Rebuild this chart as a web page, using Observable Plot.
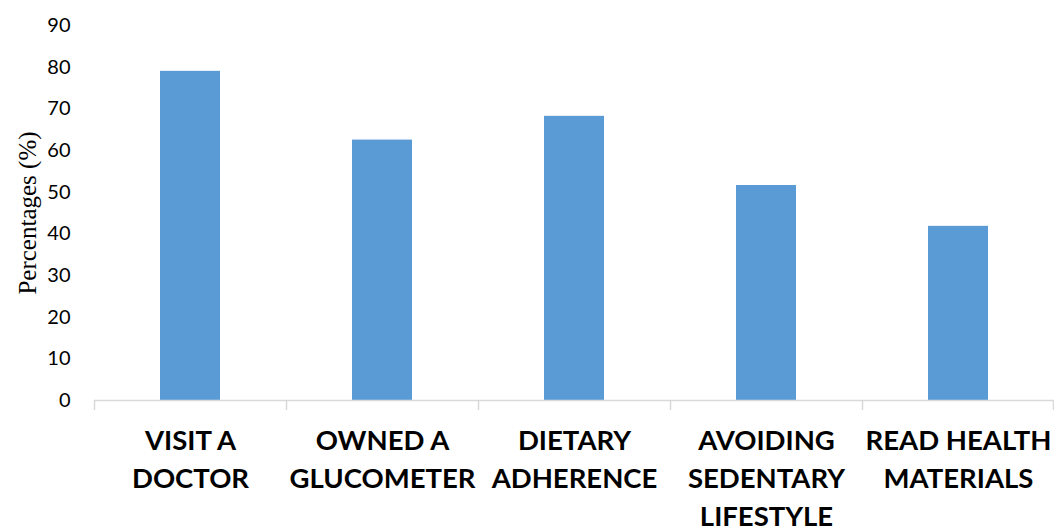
<!DOCTYPE html>
<html>
<head>
<meta charset="utf-8">
<script src="https://cdn.jsdelivr.net/npm/d3@7"></script>
<script src="https://cdn.jsdelivr.net/npm/@observablehq/plot@0.6"></script>
<style>
  html, body { margin: 0; padding: 0; background: #fff; }
  #chart { width: 1054px; height: 531px; }
</style>
</head>
<body>
<div id="chart"></div>
<script>
const categories = ["VISIT A DOCTOR", "OWNED A GLUCOMETER", "DIETARY ADHERENCE", "AVOIDING SEDENTARY LIFESTYLE", "READ HEALTH MATERIALS"];
const tickLabels = ["VISIT A\nDOCTOR", "OWNED A\nGLUCOMETER", "DIETARY\nADHERENCE", "AVOIDING\nSEDENTARY\nLIFESTYLE", "READ HEALTH\nMATERIALS"];
const values = [79.0, 62.5, 68.2, 51.6, 41.8];
const yTicks = [0, 10, 20, 30, 40, 50, 60, 70, 80, 90];
const yTitle = "Percentages (%)";

const data = categories.map((c, i) => ({category: c, value: values[i]}));
const labelOf = new Map(categories.map((c, i) => [c, tickLabels[i]]));

const width = 1054, height = 531;
const marginLeft = 94, marginRight = 0, marginTop = 25, marginBottom = 131;
const bw = (width - marginLeft - marginRight) / categories.length;

const chart = Plot.plot({
  width, height, marginLeft, marginRight, marginTop, marginBottom,
  style: {fontFamily: "Lato, 'Open Sans', sans-serif", background: "#fff", color: "#000"},
  x: {domain: categories, padding: 0},
  y: {domain: [0, 90]},
  marks: [
    Plot.barY(data, {x: "category", y: "value", fill: "#5b9bd5", insetLeft: (bw - 60) / 2, insetRight: (bw - 60) / 2}),
    Plot.ruleY([0], {stroke: "#d9d9d9", strokeWidth: 1.5}),
    Plot.ruleX(categories, {x: d => d, y1: 0, y2: -2.4, dx: -bw / 2, stroke: "#d9d9d9", strokeWidth: 1.5}),
    Plot.ruleX([categories[categories.length - 1]], {x: d => d, y1: 0, y2: -2.4, dx: bw / 2 - 1, stroke: "#d9d9d9", strokeWidth: 1.5}),
    Plot.axisY({ticks: yTicks, tickSize: 0, tickPadding: 24, fontSize: 20, label: null}),
    Plot.axisX({tickSize: 0, tickPadding: 23, fontSize: 27.5, fontWeight: "bold", lineHeight: 1.38, tickFormat: d => labelOf.get(d), label: null}),
    Plot.text([yTitle], {frameAnchor: "left", textAnchor: "middle", text: d => d, rotate: -90, dx: -67, fontSize: 25, fontFamily: "'Liberation Serif', 'Times New Roman', serif", fill: "#000"})
  ]
});
document.getElementById("chart").append(chart);
</script>
</body>
</html>
